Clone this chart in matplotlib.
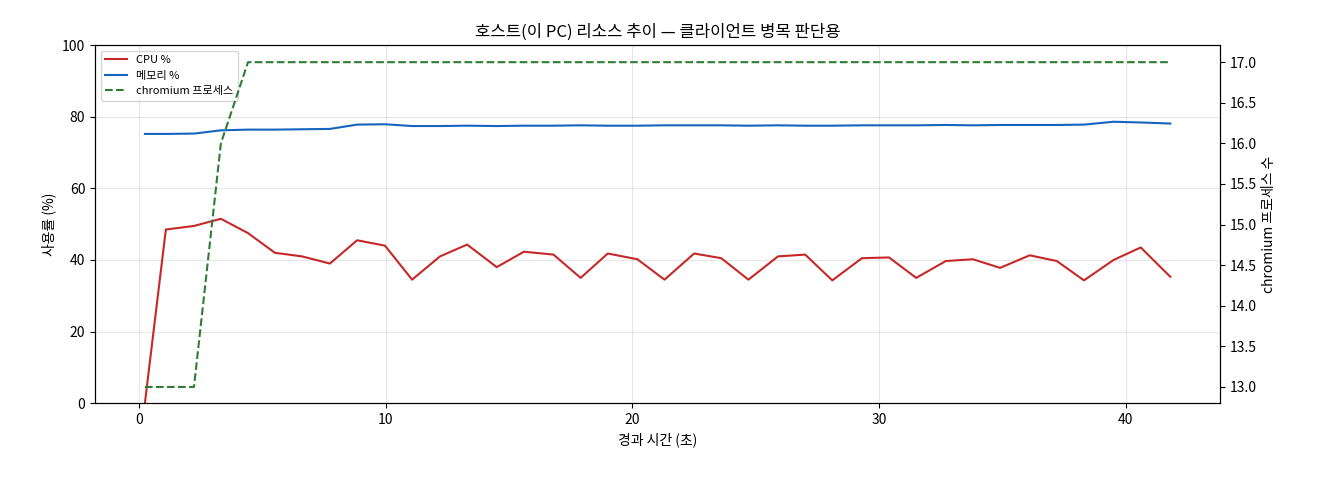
import matplotlib
matplotlib.use("Agg")
import matplotlib.pyplot as plt

plt.rcParams['font.family'] = ['Noto Sans CJK KR', 'DejaVu Sans']

elapsed = [0.24, 1.09, 2.23, 3.32, 4.42, 5.51, 6.61, 7.74, 8.84, 9.97, 11.07, 12.2, 13.3,
           14.5, 15.6, 16.8, 17.9, 19.0, 20.2, 21.3, 22.5, 23.6, 24.7, 25.9, 27.0, 28.1,
           29.3, 30.4, 31.5, 32.7, 33.8, 34.9, 36.1, 37.2, 38.3, 39.5, 40.6, 41.8]
cpu = [0, 48.5, 49.5, 51.5, 47.5, 42, 41, 39, 45.5, 44, 34.5, 41, 44.3, 38, 42.3, 41.5,
       35, 41.8, 40.2, 34.5, 41.8, 40.5, 34.5, 41, 41.5, 34.3, 40.5, 40.7, 35, 39.7, 40.2,
       37.8, 41.3, 39.7, 34.3, 40, 43.5, 35.3]
mem = [75.2, 75.2, 75.3, 76.2, 76.4, 76.4, 76.5, 76.6, 77.8, 77.9, 77.4, 77.4, 77.5, 77.4,
       77.5, 77.5, 77.6, 77.5, 77.5, 77.6, 77.6, 77.6, 77.5, 77.6, 77.5, 77.5, 77.6, 77.6,
       77.6, 77.7, 77.6, 77.7, 77.7, 77.7, 77.8, 78.6, 78.4, 78.1]
procs = [13, 13, 13, 16] + [17] * 34

fig = plt.figure(figsize=(13.2, 4.8), dpi=100)
ax = fig.add_axes([0.072, 0.16, 0.852, 0.746])
l1, = ax.plot(elapsed, cpu, color='#c62828', lw=1.5, label='CPU %')
l2, = ax.plot(elapsed, mem, color='#1565c0', lw=1.5, label='메모리 %')
ax.set_ylim(0, 100)
ax.set_xlim(-1.78, 43.8)
ax.set_xlabel('경과 시간 (초)')
ax.set_ylabel('사용률 (%)')
ax.grid(alpha=0.3)
ax.set_title('호스트(이 PC) 리소스 추이 — 클라이언트 병목 판단용')

ax2 = ax.twinx()
l3, = ax2.plot(elapsed, procs, color='#2e7d32', lw=1.5, ls='--', label='chromium 프로세스')
ax2.set_ylim(12.8, 17.21)
ax2.set_ylabel('chromium 프로세스 수')

ax.legend(handles=[l1, l2, l3], loc='upper left', fontsize=8)
fig.savefig('out.png')
